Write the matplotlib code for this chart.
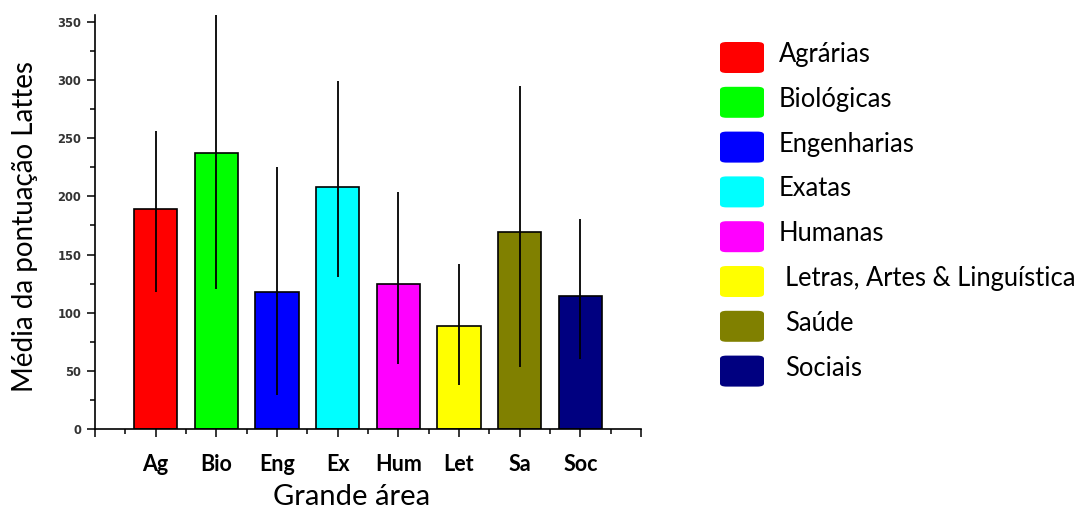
import matplotlib
matplotlib.use("Agg")
import matplotlib.pyplot as plt
from matplotlib.patches import FancyBboxPatch
from matplotlib.ticker import MultipleLocator
import numpy as np

categories = ["Ag", "Bio", "Eng", "Ex", "Hum", "Let", "Sa", "Soc"]
legend_names = ["Agrárias", "Biológicas", "Engenharias", "Exatas", "Humanas",
                "Letras, Artes & Linguística", "Saúde", "Sociais"]
means = [189, 237, 118, 208, 125, 89, 169, 114]
err_upper = [256.5, 356, 225, 299, 204, 142, 295, 180.5]
err_lower = [117.5, 120, 29, 131, 55.5, 37.5, 53, 60]
colors = ["#FF0000", "#00FF00", "#0000FF", "#00FFFF", "#FF00FF", "#FFFF00", "#808000", "#000080"]

W, H = 1088, 512
fig = plt.figure(figsize=(W / 100, H / 100), dpi=100)
ax = fig.add_axes([95 / W, 1 - 429 / H, (641 - 95) / W, (429 - 15) / H])

x = np.arange(1, len(categories) + 1)
ax.bar(x, means, width=0.715, color=colors, edgecolor="black", linewidth=1.2, zorder=2)
m = np.array(means)
yerr = np.vstack([m - np.array(err_lower), np.array(err_upper) - m])
ax.errorbar(x, means, yerr=yerr, fmt="none", ecolor="black", elinewidth=1.3, capsize=0, zorder=3)

ax.set_xlim(0, 9)
ax.set_ylim(0, 356)
for s in ["top", "right"]:
    ax.spines[s].set_visible(False)
for s in ["left", "bottom"]:
    ax.spines[s].set_linewidth(1.2)

ax.yaxis.set_major_locator(MultipleLocator(50))
ax.yaxis.set_minor_locator(MultipleLocator(25))
ax.set_xticks(np.arange(0, 10))
ax.set_xticklabels([""] + categories + [""])
ax.xaxis.set_minor_locator(MultipleLocator(0.5))
ax.tick_params(axis="both", which="major", direction="out", length=6, width=1.1)
ax.tick_params(axis="both", which="minor", direction="out", length=3.5, width=1.1)
ax.tick_params(axis="y", labelsize=8.3, pad=4, labelcolor="#333333")
for lab in ax.get_yticklabels():
    lab.set_family("DejaVu Sans")
    lab.set_fontweight("bold")
ax.tick_params(axis="x", labelsize=15.5, pad=12)
for lab in ax.get_xticklabels():
    lab.set_family("Lato")
    lab.set_fontweight("bold")

ax.set_ylabel("Média da pontuação Lattes", fontsize=20, family="Lato", va="center")
ax.yaxis.set_label_coords(-0.128, 0.488)
ax.set_xlabel("Grande área", fontsize=21, family="Lato", va="center")
ax.xaxis.set_label_coords(0.469, -0.164)

# Legend drawn manually
start_c = 57.5
step = 44.8
for i, (name, col) in enumerate(zip(legend_names, colors)):
    cy = start_c + i * step
    px0 = 720
    pw, ph = 44, 31
    patch = FancyBboxPatch(((px0) / W, 1 - (cy + ph / 2) / H), pw / W, ph / H,
                           boxstyle="round,pad=0,rounding_size=0.006",
                           transform=fig.transFigure, facecolor=col, edgecolor="none")
    fig.add_artist(patch)
    tx = 779 if i < 5 else 785
    fig.text(tx / W, 1 - (cy - 3) / H, name, fontsize=18.4, family="Lato", va="center", ha="left")

fig.savefig("out.png", dpi=100)
